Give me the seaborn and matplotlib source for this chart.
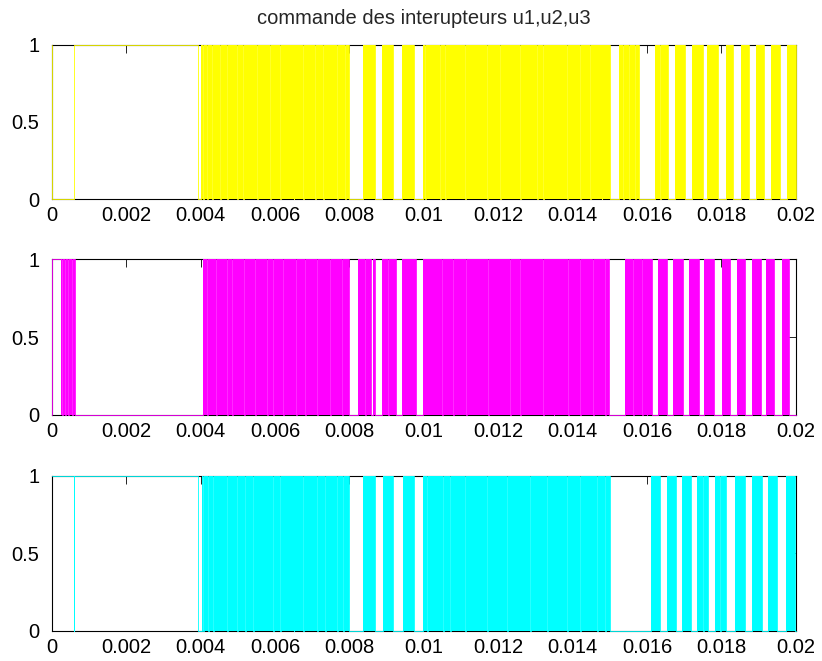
import matplotlib
matplotlib.use("Agg")
import matplotlib.pyplot as plt
import pandas as pd
import seaborn as sns

# ---- data -----------------------------------------------------------------
T_END = 0.02

x_ticks = [0.0, 0.002, 0.004, 0.006, 0.008, 0.010, 0.012, 0.014, 0.016, 0.018, 0.020]
x_tick_labels = ["0", "0.002", "0.004", "0.006", "0.008", "0.01",
                 "0.012", "0.014", "0.016", "0.018", "0.02"]
y_ticks = [0.0, 0.5, 1.0]
y_tick_labels = ["0", "0.5", "1"]

title_text = "commande des interupteurs u1,u2,u3"

# u1: slow switching before the chattering, then chattering bursts
u1_step_t = [0.0, 0.000005, 0.0006, 0.00394]
u1_step_v = [1, 0, 1, 0]
u1_on = [0.00400, 0.00836, 0.00889, 0.00942, 0.00999, 0.01525, 0.01622,
         0.01676, 0.01720, 0.01762, 0.01812, 0.01852, 0.01893, 0.01934, 0.01976]
u1_off = [0.00800, 0.00869, 0.00918, 0.00974, 0.01501, 0.01579, 0.01656,
          0.01702, 0.01750, 0.01792, 0.01832, 0.01875, 0.01915, 0.01958, 0.02000]
u1_streaks = [0.00406, 0.00417, 0.00432, 0.00452, 0.00470, 0.00497, 0.00515,
              0.00551, 0.00587, 0.00614, 0.00650, 0.00676, 0.00708, 0.00730,
              0.00766, 0.00788, 0.01004, 0.01044, 0.01057, 0.01111, 0.01169,
              0.01205, 0.01259, 0.01304, 0.01322, 0.01384, 0.01420, 0.01447,
              0.01478, 0.01537, 0.01553, 0.01568, 0.01635]

# u2
u2_step_t = [0.0, 0.0]
u2_step_v = [0, 1]
u2_on = [0.00024, 0.00406, 0.00824, 0.00865, 0.00889, 0.00942, 0.00999,
         0.01541, 0.01631, 0.01671, 0.01714, 0.01753, 0.01801, 0.01843,
         0.01882, 0.01920, 0.01962]
u2_off = [0.00063, 0.00800, 0.00858, 0.00869, 0.00925, 0.00979, 0.01499,
          0.01615, 0.01653, 0.01698, 0.01740, 0.01781, 0.01823, 0.01864,
          0.01907, 0.01943, 0.01983]
u2_streaks = [0.00027, 0.00036, 0.00045, 0.00055, 0.00417, 0.00443, 0.00470,
              0.00484, 0.00517, 0.00546, 0.00578, 0.00596, 0.00623, 0.00658,
              0.00681, 0.00712, 0.00748, 0.00780, 0.00842, 0.00905, 0.01048,
              0.01080, 0.01115, 0.01174, 0.01232, 0.01259, 0.01322, 0.01349,
              0.01389, 0.01420, 0.01456, 0.01487, 0.01563, 0.01586, 0.01599]

# u3
u3_step_t = [0.0, 0.0006, 0.000601, 0.00394]
u3_step_v = [1, 0, 1, 0]
u3_on = [0.00403, 0.00838, 0.00891, 0.00945, 0.00999, 0.01611, 0.01653,
         0.01694, 0.01736, 0.01783, 0.01837, 0.01883, 0.01926, 0.01973]
u3_off = [0.00800, 0.00869, 0.00918, 0.00974, 0.01501, 0.01635, 0.01677,
          0.01718, 0.01763, 0.01813, 0.01864, 0.01910, 0.01950, 0.01998]
u3_streaks = [0.00407, 0.00421, 0.00434, 0.00470, 0.00497, 0.00520, 0.00542,
              0.00596, 0.00614, 0.00650, 0.00676, 0.00712, 0.00735, 0.00766,
              0.00784, 0.01008, 0.01053, 0.01071, 0.01111, 0.01169, 0.01223,
              0.01286, 0.01331, 0.01384, 0.01420, 0.01465, 0.01487, 0.01750,
              0.01797]

signals = [
    (u1_step_t, u1_step_v, u1_on, u1_off, u1_streaks, "#FFFF00"),
    (u2_step_t, u2_step_v, u2_on, u2_off, u2_streaks, "#FF00FF"),
    (u3_step_t, u3_step_v, u3_on, u3_off, u3_streaks, "#00FFFF"),
]

# ---- style ----------------------------------------------------------------
sns.set_style("white")
plt.rcParams["font.family"] = ["Liberation Sans", "DejaVu Sans"]
plt.rcParams["axes.linewidth"] = 0.8
plt.rcParams["axes.edgecolor"] = "black"

STREAK_GAP = 2.6e-5
LW = 0.6
FONT_SIZE = 14.5


def burst_segments(on, off, streaks):
    segs = []
    for a, b in zip(on, off):
        cur = a
        for s in streaks:
            if a < s < b:
                segs.append((cur, s))
                cur = s + STREAK_GAP
        segs.append((cur, b))
    return segs


def build_series(step_t, step_v, on, off, streaks):
    segs = burst_segments(on, off, streaks)
    t, v = list(step_t), list(step_v)
    bt, bv = [0.0], [0]
    for a, b in segs:
        t += [a, b]
        v += [1, 0]
        bt += [a, b]
        bv += [1, 0]
    t.append(T_END)
    v.append(v[-1])
    bt.append(T_END)
    bv.append(bv[-1])
    return (pd.DataFrame({"t": t, "u": v}),
            pd.DataFrame({"t": bt, "u": bv}))


W, H = 822, 661
fig = plt.figure(figsize=(W / 100, H / 100), dpi=100)
left = 51.7 / W
width = (795.7 - 51.7) / W
boxes = [(44.7, 199.0), (259.3, 415.0), (475.7, 631.0)]

for (top_px, bot_px), (st, sv, on, off, streaks, color) in zip(boxes, signals):
    ax = fig.add_axes([left, 1 - bot_px / H, width, (bot_px - top_px) / H])
    line_df, fill_df = build_series(st, sv, on, off, streaks)

    ax.fill_between(fill_df["t"], 0, fill_df["u"], step="post",
                    color=color, linewidth=0, zorder=3, clip_on=False)
    sns.lineplot(data=line_df, x="t", y="u", ax=ax, color=color,
                 estimator=None, sort=False, drawstyle="steps-post",
                 linewidth=LW, zorder=4, clip_on=False, legend=False)

    ax.set_xlim(0, T_END)
    ax.set_ylim(0, 1)
    ax.set_xticks(x_ticks)
    ax.set_xticklabels(x_tick_labels)
    ax.set_yticks(y_ticks)
    ax.set_yticklabels(y_tick_labels)
    ax.set_xlabel("")
    ax.set_ylabel("")
    ax.tick_params(direction="in", length=6, width=0.6, top=True, right=True,
                   labelsize=FONT_SIZE, colors="black")
    ax.tick_params(axis="x", pad=5)
    ax.tick_params(axis="y", pad=9)
    for sp in ax.spines.values():
        sp.set_visible(True)
        sp.set_color("black")
        sp.set_zorder(2.5)

    if top_px == boxes[0][0]:
        ax.set_title(title_text, fontsize=FONT_SIZE, pad=15)

fig.savefig("out.png", dpi=100)
